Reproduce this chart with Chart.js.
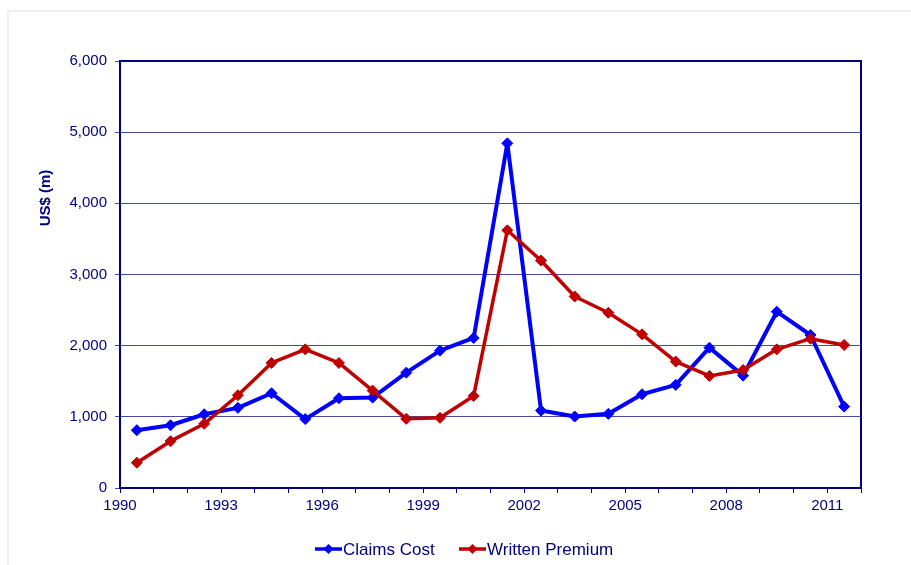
<!DOCTYPE html>
<html>
<head>
<meta charset="utf-8">
<script src="https://cdn.jsdelivr.net/npm/chart.js@4/dist/chart.umd.min.js"></script>
<style>
  html, body { margin: 0; padding: 0; background: #fff; }
  #wrap { position: relative; width: 911px; height: 565px; overflow: hidden; }
  #frame { position: absolute; left: 7px; top: 10px; width: 1000px; height: 700px;
           border-left: 2px solid #efefef; border-top: 2px solid #efefef; }
  #chart { position: absolute; left: 0; top: 0; }
</style>
</head>
<body>
<div id="wrap">
  <div id="frame"></div>
  <canvas id="chart" width="911" height="565"></canvas>
</div>
<script>
// data
const years = [1990, 1991, 1992, 1993, 1994, 1995, 1996, 1997, 1998, 1999, 2000,
               2001, 2002, 2003, 2004, 2005, 2006, 2007, 2008, 2009, 2010, 2011];
const claimsCost = [812, 882, 1036, 1126, 1331, 968, 1261, 1270, 1621, 1930, 2108,
                    4843, 1088, 1004, 1042, 1317, 1449, 1972, 1579, 2477, 2150, 1144];
const writtenPremium = [355, 658, 902, 1303, 1757, 1948, 1757, 1369, 972, 986, 1294,
                        3621, 3196, 2691, 2463, 2159, 1776, 1575, 1659, 1948, 2098, 2010];
const xLabelYears = [1990, 1993, 1996, 1999, 2002, 2005, 2008, 2011];
const yTicks = [0, 1000, 2000, 3000, 4000, 5000, 6000];

const NAVY = '#000080';
const BLUE = '#0000ff';
const RED = '#c00000';

// each year sits in the middle of its category slot
const toPoints = vals => years.map((y, i) => ({ x: y + 0.5, y: vals[i] }));

const frameAndExtras = {
  id: 'frameAndExtras',
  afterDraw(chart) {
    const { ctx, chartArea: a } = chart;
    ctx.save();
    // top and right border of the plot box
    ctx.strokeStyle = NAVY;
    ctx.lineWidth = 2;
    ctx.beginPath();
    ctx.moveTo(a.left, a.top);
    ctx.lineTo(a.right, a.top);
    ctx.lineTo(a.right, a.bottom);
    ctx.stroke();

    // y axis title
    ctx.fillStyle = NAVY;
    ctx.font = 'bold 15px "Liberation Sans", Arial, sans-serif';
    ctx.textAlign = 'center';
    ctx.textBaseline = 'middle';
    ctx.translate(46, 198);
    ctx.rotate(-Math.PI / 2);
    ctx.fillText('US$ (m)', 0, 0);
    ctx.restore();

    // legend
    ctx.save();
    const items = [
      { label: 'Claims Cost', color: BLUE, x0: 315 },
      { label: 'Written Premium', color: RED, x0: 459 }
    ];
    const ly = 549;
    ctx.font = '17px "Liberation Sans", Arial, sans-serif';
    ctx.textBaseline = 'middle';
    ctx.textAlign = 'left';
    items.forEach(it => {
      ctx.strokeStyle = it.color;
      ctx.lineWidth = 3.5;
      ctx.beginPath();
      ctx.moveTo(it.x0, ly);
      ctx.lineTo(it.x0 + 27, ly);
      ctx.stroke();
      const cx = it.x0 + 13.5;
      ctx.fillStyle = it.color;
      ctx.beginPath();
      ctx.moveTo(cx, ly - 5);
      ctx.lineTo(cx + 5, ly);
      ctx.lineTo(cx, ly + 5);
      ctx.lineTo(cx - 5, ly);
      ctx.closePath();
      ctx.fill();
      ctx.fillStyle = NAVY;
      ctx.fillText(it.label, it.x0 + 28, ly + 1);
    });
    ctx.restore();
  }
};

new Chart(document.getElementById('chart'), {
  type: 'line',
  data: {
    datasets: [
      {
        label: 'Claims Cost',
        data: toPoints(claimsCost),
        borderColor: BLUE,
        backgroundColor: BLUE,
        borderWidth: 4,
        borderJoinStyle: 'round',
        pointStyle: 'rectRot',
        pointRadius: 5.5,
        pointBorderWidth: 1,
        tension: 0,
        order: 1
      },
      {
        label: 'Written Premium',
        data: toPoints(writtenPremium),
        borderColor: RED,
        backgroundColor: RED,
        borderWidth: 3.5,
        borderJoinStyle: 'round',
        pointStyle: 'rectRot',
        pointRadius: 5.5,
        pointBorderWidth: 1,
        tension: 0,
        order: 0
      }
    ]
  },
  options: {
    responsive: false,
    animation: false,
    devicePixelRatio: 1,
    layout: { padding: { top: 61, right: 50, bottom: 0, left: 0 } },
    plugins: {
      legend: { display: false },
      tooltip: { enabled: false }
    },
    scales: {
      x: {
        type: 'linear',
        min: 1990,
        max: 2012,
        afterFit: s => { s.height = 77; },
        border: { display: true, color: NAVY, width: 2 },
        grid: { display: true, drawOnChartArea: false, drawTicks: true, tickLength: 5, color: NAVY, lineWidth: 1 },
        ticks: {
          stepSize: 1,
          autoSkip: false,
          maxRotation: 0,
          padding: 4,
          color: NAVY,
          font: { family: '"Liberation Sans", Arial, sans-serif', size: 15 },
          callback: v => xLabelYears.includes(v) ? String(v) : ''
        }
      },
      y: {
        min: 0,
        max: 6000,
        afterFit: s => { s.width = 120; },
        afterBuildTicks: s => { s.ticks = yTicks.map(v => ({ value: v })); },
        border: { display: true, color: NAVY, width: 2 },
        grid: { color: '#4a4aa2', lineWidth: 1, tickLength: 5, drawTicks: true },
        ticks: {
          padding: 8,
          color: NAVY,
          font: { family: '"Liberation Sans", Arial, sans-serif', size: 15 },
          callback: v => v.toLocaleString('en-US')
        }
      }
    }
  },
  plugins: [frameAndExtras]
});
</script>
</body>
</html>
